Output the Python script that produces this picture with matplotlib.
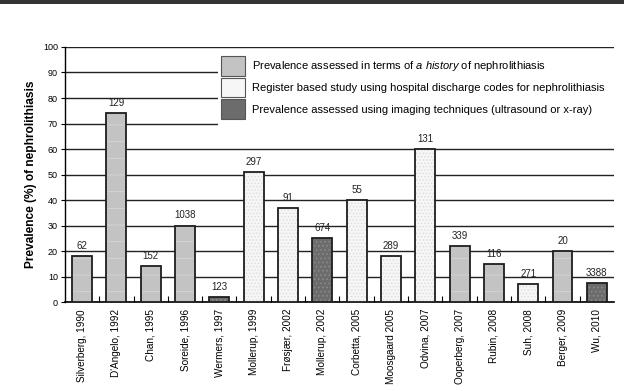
import matplotlib
matplotlib.use("Agg")
import matplotlib.pyplot as plt
from matplotlib.patches import Patch, Rectangle

plt.rcParams["font.family"] = ["Liberation Sans", "DejaVu Sans"]
plt.rcParams["mathtext.fontset"] = "custom"
plt.rcParams["mathtext.it"] = "Liberation Sans:italic"
plt.rcParams["mathtext.rm"] = "Liberation Sans"
plt.rcParams["hatch.linewidth"] = 0.6

studies = ["Silverberg, 1990", "D'Angelo, 1992", "Chan, 1995", "Soreide, 1996",
           "Wermers, 1997", "Mollerup, 1999", "Frøsjær, 2002", "Mollerup, 2002",
           "Corbetta, 2005", "Moosgaard 2005", "Odvina, 2007", "Ooperberg, 2007",
           "Rubin, 2008", "Suh, 2008", "Berger, 2009", "Wu, 2010"]
prevalence = [18, 74, 14, 30, 2, 51, 37, 25, 40, 18, 60, 22, 15, 7, 20, 7.5]
patients = ["62", "129", "152", "1038", "123", "297", "91", "674",
            "55", "289", "131", "339", "116", "271", "20", "3388"]
method = ["history", "history", "history", "history", "imaging", "register",
          "register", "imaging", "register", "register", "register", "history",
          "history", "register", "history", "imaging"]

method_labels = {
    "history": "Prevalence assessed in terms of $\\it{a\\ history}$ of nephrolithiasis",
    "register": "Register based study using hospital discharge codes for nephrolithiasis",
    "imaging": "Prevalence assessed using imaging techniques (ultrasound or x-ray)",
}
# face colour, texture colour, texture pattern
method_style = {
    "history": ("#c3c3c3", "#d6d6d6", "-"),
    "register": ("#f6f6f6", "#dcdcdc", "....."),
    "imaging": ("#6c6c6c", "#8c8c8c", "...."),
}
order = ["history", "register", "imaging"]

fig = plt.figure(figsize=(6.24, 3.91), dpi=100)
fig.patches.append(Rectangle((0, 1 - 4 / 391), 1, 4 / 391, transform=fig.transFigure,
                             facecolor="#333333", edgecolor="none"))
ax = fig.add_axes([0.104, 0.2276, 0.88, 0.6522])

x = list(range(len(studies)))
w = 0.58
for m in order:
    xs = [xi for xi, mm in zip(x, method) if mm == m]
    vs = [v for v, mm in zip(prevalence, method) if mm == m]
    face, tex, pat = method_style[m]
    ax.bar(xs, vs, width=w, color=face, edgecolor=tex, hatch=pat, linewidth=0, zorder=3)
ax.bar(x, prevalence, width=w, fill=False, edgecolor="#1e1e1e", linewidth=1.3, zorder=4)

for xi, v, lab in zip(x, prevalence, patients):
    ax.text(xi, v + 2, lab, ha="center", va="bottom", fontsize=7, color="#222222")

ax.set_xlim(-0.5, len(studies) - 0.5)
ax.set_ylim(0, 100)
ax.set_yticks(range(0, 101, 10))
ax.tick_params(axis="y", labelsize=6.5, length=3, width=0.8, pad=2)
ax.yaxis.grid(True, color="#222222", linewidth=1.0, zorder=0)
ax.set_axisbelow(True)
ax.set_xticks(x)
ax.set_xticklabels(studies, rotation=90, fontsize=7.2)
ax.tick_params(axis="x", length=0, pad=5)
ax.set_xticks([i + 0.5 for i in x[:-1]], minor=True)
ax.tick_params(axis="x", which="minor", direction="in", length=4, width=0.8)
for s in ["top", "right"]:
    ax.spines[s].set_visible(False)
ax.spines["left"].set_linewidth(1.0)
ax.spines["bottom"].set_linewidth(1.2)
ax.set_ylabel("Prevalence (%) of nephrolithiasis", fontsize=8.6, fontweight="bold", labelpad=4)

# white panel behind the legend, hiding the grid lines
x0 = (218 - 65) / 549
y0 = (302 - 127) / 255
y1 = (302 - 53) / 255
ax.add_patch(Rectangle((x0, y0), 1.0 - x0, y1 - y0, transform=ax.transAxes,
                       facecolor="white", edgecolor="none", zorder=2))

handles = [Patch(facecolor=method_style[k][0], edgecolor="#555555", linewidth=0.8,
                 label=method_labels[k]) for k in order]
leg = ax.legend(handles=handles, loc="upper left", bbox_to_anchor=(x0, y1),
                fontsize=8, frameon=False, handlelength=2.15, handleheight=2.3,
                labelspacing=0.2, borderpad=0.3, borderaxespad=0, handletextpad=0.6)
leg.set_zorder(5)

fig.savefig("out.png", dpi=100)
